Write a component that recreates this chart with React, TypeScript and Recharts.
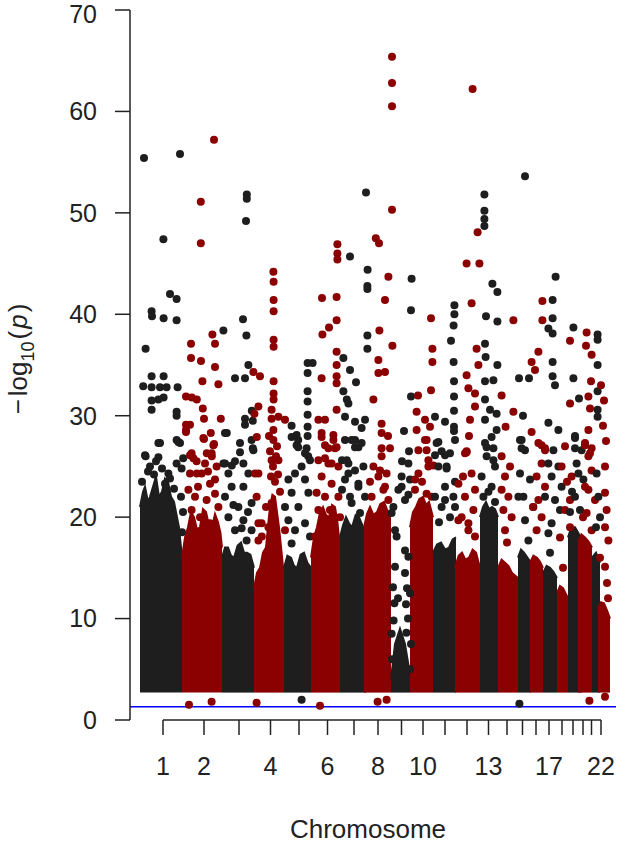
import React from 'react';
import { ComposedChart, Area, Scatter, XAxis, YAxis, ReferenceLine } from 'recharts';

// chromosomes along the x axis and their relative lengths
const CHROM_NAMES = ['1', '2', '3', '4', '5', '6', '7', '8', '9', '10', '11', '12', '13', '14', '15', '16', '17', '18', '19', '20', '21', '22'];
const CHROM_LENGTHS = [230, 180, 170, 145, 140, 145, 120, 120, 115, 100, 120, 100, 115, 70, 85, 50, 80, 50, 60, 40, 45, 50];
// R drops the labels that would overlap
const LABELLED_CHROMS = ['1', '2', '4', '6', '8', '10', '13', '17', '22'];
const Y_TICKS = [0, 10, 20, 30, 40, 50, 60, 70];
const THRESHOLD = 1.301; // -log10(0.05)

// the solid mass of SNPs: floor and upper envelope [offset, -log10 p] per chromosome
const CORE_FLOOR = 2.8;
const CORE_TOPS: number[][][] = [
  [[0, 21], [15, 22.5], [25, 23], [40, 21.5], [50, 22], [65, 23], [80, 24], [95, 22], [110, 22.5], [125, 23.8], [140, 23.5], [155, 22], [170, 21.5], [185, 20], [195, 19], [210, 16]],
  [[-20, 16], [-5, 18], [10, 19], [25, 20.5], [40, 20], [55, 18.8], [70, 19], [85, 20.8], [100, 20.5], [115, 19.2], [130, 19], [145, 20.3], [160, 19.5], [172, 18.5], [180, 17]],
  [[0, 16], [15, 17], [30, 17], [45, 16.2], [60, 16], [78, 17.2], [95, 17.5], [110, 16.5], [125, 16.5], [142, 16.3], [160, 15]],
  [[-10, 13], [5, 14.5], [20, 15], [35, 16.5], [50, 17], [62, 19.5], [70, 21], [82, 22.2], [95, 22], [105, 20.5], [115, 19], [128, 16.5], [140, 14]],
  [[-5, 15], [12, 16.2], [30, 16], [45, 15.2], [60, 15], [78, 16.3], [95, 16.5], [112, 15.5], [130, 15]],
  [[-10, 16], [5, 18], [20, 19], [35, 20.5], [50, 21], [65, 20.2], [80, 20], [95, 21.2], [110, 21], [122, 19.5], [135, 17]],
  [[-10, 18], [5, 19.2], [20, 20], [35, 19.4], [50, 19], [68, 20.2], [85, 20], [102, 19.2], [120, 18]],
  [[-10, 19], [5, 20.3], [20, 21], [38, 20.2], [55, 20.5], [72, 21.3], [90, 21.5], [108, 20.6], [125, 20]],
  [[5, 4], [25, 7.5], [50, 9], [75, 7.5], [100, 4.5]],
  [[-15, 19], [0, 20.5], [15, 21], [32, 21.8], [50, 22], [65, 21.2], [80, 21.5], [100, 20]],
  [[0, 16.5], [20, 17.3], [40, 17.5], [60, 16.8], [80, 17], [98, 17.8], [115, 18]],
  [[-10, 15], [8, 16.2], [25, 16.5], [42, 15.8], [60, 16], [78, 16.8], [95, 16.5], [115, 15]],
  [[15, 20], [30, 21], [45, 21.5], [60, 20.8], [75, 21], [90, 20.8], [105, 20]],
  [[-10, 15], [8, 15.8], [25, 15.5], [42, 15.2], [60, 14.5], [90, 14]],
  [[20, 16], [35, 16.8], [50, 16.5], [68, 16], [85, 15.5]],
  [[-5, 15.5], [12, 16.2], [30, 16], [45, 15.6], [60, 15]],
  [[10, 14.5], [28, 15.2], [45, 15], [62, 14.6], [80, 14]],
  [[0, 12.5], [15, 13.2], [30, 13], [55, 12]],
  [[5, 18], [22, 19], [40, 19], [58, 18.4], [75, 17.5]],
  [[-5, 17.5], [12, 18.3], [30, 18], [48, 17.6], [65, 17]],
  [[25, 16], [45, 16.5], [65, 15.5]],
  [[10, 11], [25, 11.6], [40, 11.5], [55, 10.8], [70, 10]],
];

// scattered SNPs above the mass: [offset in chromosome, -log10 p]
const PEAKS: number[][][] = [
  [[20, 55.4], [200, 55.8], [117, 47.4], [150, 42.0], [183, 41.5], [58, 40.3], [60, 39.8], [118, 39.6], [183, 39.4], [28, 36.6], [58, 33.9], [118, 33.9], [16, 32.9], [58, 32.8], [100, 32.8], [133, 32.8], [188, 32.8], [58, 31.5], [92, 31.6], [118, 31.8], [58, 30.6], [183, 30.4], [183, 30.0], [100, 27.3], [28, 26.0], [92, 25.9], [183, 27.6], [200, 27.3], [216, 25.8], [50, 25.0], [183, 25.3], [125, 23.3], [25, 26.1], [92, 27.3], [192, 27.4], [208, 24.8], [142, 24.3], [70, 24.2], [110, 24.8], [150, 23.8], [40, 24.5], [170, 22.8], [205, 22.0], [215, 20.5], [210, 18.5], [80, 25.5], [10, 23.5]],
  [[140, 57.2], [74, 51.1], [74, 47.0], [132, 38.0], [145, 37.1], [25, 37.1], [25, 35.7], [75, 35.4], [145, 34.8], [82, 33.4], [162, 33.1], [0, 31.9], [29, 31.8], [54, 31.6], [84, 30.7], [90, 29.7], [174, 29.7], [0, 29.1], [20, 29.1], [0, 28.6], [124, 28.3], [90, 27.7], [140, 27.2], [20, 26.1], [37, 25.8], [104, 26.3], [129, 26.0], [95, 25.3], [137, 27.1], [54, 24.3], [145, 23.7], [12, 22.7], [0, 28.4], [87, 27.8], [28, 26.3], [53, 25.5], [128, 26.3], [153, 25.0], [20, 24.3], [78, 24.3], [120, 23.3], [45, 22.0], [103, 21.7], [145, 22.3], [162, 21.0], [28, 20.7], [70, 20.0], [120, 19.4], [137, 18.1], [60, 23.0], [110, 24.5], [15, 1.5], [128, 1.8]],
  [[124, 51.8], [124, 51.4], [120, 49.2], [105, 39.5], [122, 37.9], [7, 38.4], [132, 35.0], [65, 33.7], [115, 33.7], [24, 28.3], [115, 29.7], [115, 29.1], [149, 30.5], [154, 29.5], [90, 26.4], [154, 26.8], [7, 25.3], [49, 25.1], [15, 28.3], [90, 27.3], [148, 27.6], [157, 26.6], [15, 25.3], [65, 25.5], [107, 25.3], [32, 24.3], [132, 24.3], [48, 23.0], [107, 23.0], [15, 22.0], [82, 21.0], [148, 21.4], [32, 20.0], [107, 19.7], [65, 18.7], [148, 18.7], [123, 17.7], [57, 21.2], [98, 18.9], [130, 20.5]],
  [[87, 44.2], [88, 43.2], [88, 41.4], [88, 40.3], [88, 37.5], [88, 36.8], [-13, 34.3], [20, 33.9], [88, 33.4], [88, 32.2], [88, 31.6], [-8, 30.2], [12, 30.9], [4, 27.9], [78, 30.6], [78, 29.7], [87, 28.6], [87, 27.6], [112, 29.9], [145, 29.6], [78, 25.6], [112, 25.6], [-5, 24.3], [12, 19.4], [29, 18.1], [78, 21.4], [70, 26.5], [85, 25.0], [95, 23.5], [105, 27.0], [65, 28.0], [100, 26.0], [75, 24.0], [110, 24.2], [12, 24.3], [3, 22.0], [28, 19.4], [12, 17.7], [62, 19.0], [95, 18.1], [145, 18.7], [50, 21.0], [120, 22.5], [3, 1.7]],
  [[113, 35.2], [138, 35.2], [113, 34.2], [33, 29.0], [58, 28.1], [66, 27.6], [113, 32.4], [113, 31.4], [113, 30.1], [113, 28.9], [113, 28.0], [108, 26.8], [116, 26.0], [33, 27.9], [58, 27.1], [125, 25.6], [83, 25.0], [50, 24.3], [17, 23.7], [100, 23.7], [33, 22.4], [117, 22.4], [0, 21.0], [67, 21.0], [17, 19.7], [100, 19.4], [50, 18.7], [125, 18.1], [33, 17.4], [66, 26.9], [100, 26.3], [83, 2.0]],
  [[122, 46.9], [122, 46.0], [122, 45.4], [45, 41.6], [118, 41.7], [118, 39.4], [80, 38.7], [47, 38.0], [118, 36.3], [118, 35.0], [118, 33.9], [118, 33.2], [43, 33.7], [27, 29.6], [60, 29.6], [43, 28.3], [102, 27.6], [77, 26.8], [110, 26.8], [60, 25.8], [93, 25.3], [118, 30.6], [43, 27.9], [102, 28.1], [60, 27.1], [118, 26.9], [27, 25.6], [77, 25.3], [127, 25.0], [43, 24.0], [93, 23.3], [18, 22.4], [60, 22.0], [127, 22.0], [27, 20.7], [85, 20.7], [135, 20.0], [10, 18.1], [35, 1.4]],
  [[120, 52.0], [40, 45.7], [128, 44.4], [127, 42.8], [127, 42.5], [127, 37.9], [127, 36.6], [7, 35.7], [40, 34.5], [70, 33.3], [7, 32.4], [24, 31.6], [15, 29.9], [32, 31.2], [65, 29.4], [98, 28.8], [115, 29.6], [48, 27.6], [82, 26.9], [24, 25.6], [65, 26.9], [98, 27.3], [15, 27.6], [65, 27.6], [32, 25.3], [65, 24.6], [107, 25.0], [15, 23.7], [82, 23.0], [115, 22.0], [48, 21.4], [90, 20.4], [0, 25.6], [0, 22.7], [40, 22.0], [32, 24.3], [82, 23.3]],
  [[130, 65.4], [130, 62.8], [130, 60.5], [130, 50.3], [49, 47.5], [65, 47.0], [112, 43.7], [95, 41.4], [67, 38.4], [132, 36.9], [62, 35.5], [62, 34.2], [95, 34.3], [37, 31.6], [78, 29.2], [78, 28.3], [78, 26.8], [70, 24.6], [103, 24.3], [87, 22.7], [37, 25.0], [78, 26.0], [120, 26.8], [62, 24.0], [95, 23.0], [28, 22.0], [112, 21.7], [20, 23.5], [110, 28.0], [58, 1.8], [103, 2.0]],
  [[108, 43.5], [105, 40.4], [105, 31.9], [100, 23.7], [58, 23.0], [92, 22.2], [17, 21.0], [8, 20.4], [25, 18.7], [33, 18.1], [75, 16.7], [92, 16.1], [25, 15.1], [15, 13.1], [22, 11.5], [18, 9.8], [75, 14.5], [85, 13.0], [80, 11.4], [90, 10.0], [82, 8.6], [70, 28.5], [95, 26.5], [60, 25.5], [42, 22.7], [75, 21.7], [92, 25.3], [58, 24.0], [10, 6.0], [100, 5.0], [105, 7.5], [8, 8.5], [40, 12.0], [100, 12.5]],
  [[90, 39.6], [97, 36.6], [97, 35.3], [90, 32.5], [18, 30.4], [60, 29.6], [85, 28.9], [18, 28.6], [68, 27.6], [68, 26.6], [27, 24.3], [77, 25.0], [102, 25.1], [68, 22.3], [25, 32.0], [10, 22.7], [60, 21.0], [27, 20.0], [60, 27.6], [27, 26.6], [77, 25.6], [10, 23.7], [93, 22.0], [45, 23.5]],
  [[107, 40.9], [107, 40.0], [103, 38.9], [90, 37.4], [103, 35.3], [105, 33.4], [105, 31.9], [105, 30.5], [105, 28.9], [105, 28.5], [10, 29.9], [60, 29.4], [27, 27.4], [10, 26.1], [60, 26.1], [68, 24.8], [110, 23.5], [60, 21.7], [110, 21.0], [18, 27.3], [43, 26.5], [85, 26.3], [110, 27.6], [27, 25.0], [68, 25.0], [60, 23.0], [10, 22.0], [102, 22.0], [43, 21.0], [85, 20.0], [30, 19.5]],
  [[78, 62.2], [103, 48.1], [48, 45.0], [112, 45.0], [73, 41.1], [98, 36.6], [107, 35.0], [48, 34.0], [57, 32.7], [90, 32.2], [90, 30.9], [65, 29.6], [48, 26.4], [40, 26.3], [73, 24.3], [90, 22.7], [23, 20.0], [57, 19.4], [90, 18.1], [48, 26.5], [7, 23.3], [40, 22.0], [82, 20.7], [7, 19.7], [57, 18.7], [30, 24.0], [60, 28.0]],
  [[37, 51.8], [37, 50.2], [37, 49.4], [37, 48.7], [77, 43.0], [102, 42.2], [45, 39.8], [102, 39.3], [40, 37.1], [43, 35.8], [102, 35.0], [40, 33.4], [82, 33.5], [40, 31.6], [65, 30.6], [98, 30.2], [40, 29.6], [98, 28.6], [48, 26.9], [82, 26.8], [82, 25.6], [40, 27.3], [73, 27.9], [48, 26.0], [90, 25.0], [23, 24.0], [73, 23.0], [32, 22.0], [90, 21.5], [57, 22.5]],
  [[67, 39.4], [8, 32.0], [67, 30.4], [28, 28.9], [8, 26.0], [25, 24.0], [8, 22.7], [42, 22.0], [17, 20.7], [58, 20.0], [25, 18.7], [50, 25.0], [35, 17.5]],
  [[55, 53.6], [25, 33.7], [75, 33.7], [30, 27.6], [38, 26.8], [38, 27.6], [55, 26.6], [30, 24.3], [80, 23.7], [47, 22.0], [97, 21.0], [55, 19.7], [22, 22.0], [72, 17.7], [45, 30.0], [27, 1.6]],
  [[57, 41.3], [57, 39.4], [37, 36.3], [3, 35.3], [20, 34.5], [3, 28.4], [53, 27.1], [70, 26.8], [37, 27.3], [70, 26.6], [53, 25.3], [28, 24.0], [70, 23.0], [37, 21.7], [53, 20.0], [28, 18.7], [10, 21.0]],
  [[73, 43.7], [58, 41.4], [58, 39.6], [37, 38.6], [58, 38.1], [58, 35.3], [58, 33.9], [70, 33.0], [37, 29.3], [87, 28.6], [37, 25.3], [62, 26.6], [87, 25.0], [53, 24.0], [103, 23.0], [70, 21.7], [95, 20.7], [53, 19.4], [37, 18.4], [20, 22.0], [45, 16.5]],
  [[65, 37.4], [65, 31.2], [23, 25.0], [65, 21.7], [40, 20.7], [65, 19.0], [73, 24.0], [40, 27.0], [50, 23.5], [30, 15.0], [15, 18.0]],
  [[32, 38.7], [32, 33.7], [60, 31.7], [40, 27.8], [40, 26.8], [40, 28.0], [73, 26.6], [48, 25.3], [82, 23.7], [40, 22.0], [65, 20.7], [57, 24.3], [25, 22.5], [15, 20.5]],
  [[38, 38.2], [35, 36.9], [63, 36.0], [60, 33.4], [47, 31.9], [55, 30.7], [47, 28.6], [30, 27.1], [63, 26.8], [47, 26.0], [30, 27.3], [55, 26.3], [63, 24.6], [30, 23.0], [80, 21.7], [38, 20.4], [63, 18.7], [47, 22.7], [20, 20.0], [52, 1.9]],
  [[53, 38.0], [53, 37.5], [53, 35.0], [53, 32.4], [53, 30.6], [53, 29.9], [48, 24.3], [57, 22.0], [65, 20.0], [45, 19.0]],
  [[25, 33.0], [40, 31.5], [35, 29.0], [50, 27.5], [45, 25.0], [45, 22.4], [53, 20.7], [45, 19.0], [62, 17.7], [45, 15.1], [20, 16.0], [55, 13.5], [60, 12.0], [45, 2.3]],
];

const COLORS = ['#1e1e1e', '#8b0000'];
const AXIS = '#222';
const FONT = '"Liberation Sans", Arial, sans-serif';

const starts: number[] = [];
CHROM_LENGTHS.forEach((len, i) => starts.push(i === 0 ? 0 : starts[i - 1] + CHROM_LENGTHS[i - 1]));
const centers = starts.map((s, i) => s + CHROM_LENGTHS[i] / 2);
const total = starts[starts.length - 1] + CHROM_LENGTHS[CHROM_LENGTHS.length - 1];

const XTick = ({ x, y, payload }: any) => {
  const name = CHROM_NAMES[centers.indexOf(payload.value)];
  if (!LABELLED_CHROMS.includes(name)) return <g />;
  return (
    <text x={x} y={y + 40} textAnchor="middle" fontFamily={FONT} fontSize={25} fill={AXIS}>
      {name}
    </text>
  );
};

const YTitle = () => (
  <text transform="translate(27,359) rotate(-90)" textAnchor="middle" fontFamily={FONT} fontSize={26} fill={AXIS}>
    <tspan>−</tspan>
    <tspan dx={3}>log</tspan>
    <tspan fontSize={18} dy={7}>10</tspan>
    <tspan dy={-7} dx={2}>(</tspan>
    <tspan fontStyle="italic" dx={2}>p</tspan>
    <tspan dx={2}>)</tspan>
  </text>
);

const XTitle = () => (
  <text x={368} y={838} textAnchor="middle" fontFamily={FONT} fontSize={26} fill={AXIS}>
    Chromosome
  </text>
);

const dot = (color: string) => (props: any) => <circle cx={props.cx} cy={props.cy} r={4} fill={color} />;

export default function App() {
  return (
    <div style={{ position: 'absolute', left: 0, top: 0, background: '#fff' }}>
      <ComposedChart width={625} height={843} margin={{ top: 10, right: 9, left: 0, bottom: 0 }}>
        <XAxis
          type="number"
          dataKey="pos"
          domain={[-50, total + 50]}
          ticks={centers}
          interval={0}
          tick={<XTick />}
          tickSize={15}
          tickMargin={0}
          tickLine={{ stroke: AXIS, strokeWidth: 1.5 }}
          axisLine={false}
          height={123}
          allowDataOverflow
          label={{ content: () => <XTitle /> }}
        />
        <YAxis
          type="number"
          domain={[0, 70]}
          ticks={Y_TICKS}
          width={130}
          tickSize={15}
          tickMargin={18}
          tickLine={{ stroke: AXIS, strokeWidth: 1.5 }}
          axisLine={{ stroke: AXIS, strokeWidth: 1.5 }}
          tick={{ fill: AXIS, fontSize: 25, fontFamily: FONT }}
          allowDataOverflow
          label={{ content: () => <YTitle /> }}
        />
        {CHROM_NAMES.map((name, i) => (
          <Area
            key={`core-${name}`}
            data={CORE_TOPS[i].map(([o, top]) => ({ pos: starts[i] + o, band: [CORE_FLOOR, top] }))}
            dataKey="band"
            type="linear"
            fill={COLORS[i % 2]}
            fillOpacity={1}
            stroke={COLORS[i % 2]}
            strokeWidth={2}
            dot={false}
            activeDot={false}
            isAnimationActive={false}
          />
        ))}
        {CHROM_NAMES.map((name, i) => (
          <Scatter
            key={`snp-${name}`}
            data={PEAKS[i].map(([o, v]) => ({ pos: starts[i] + o, logp: v }))}
            dataKey="logp"
            shape={dot(COLORS[i % 2])}
            isAnimationActive={false}
          />
        ))}
        <ReferenceLine y={THRESHOLD} stroke="#0000ff" strokeWidth={1.5} />
        <ReferenceLine
          segment={[{ x: centers[0], y: 0 }, { x: centers[centers.length - 1], y: 0 }]}
          stroke={AXIS}
          strokeWidth={1.5}
          ifOverflow="visible"
        />
      </ComposedChart>
    </div>
  );
}
